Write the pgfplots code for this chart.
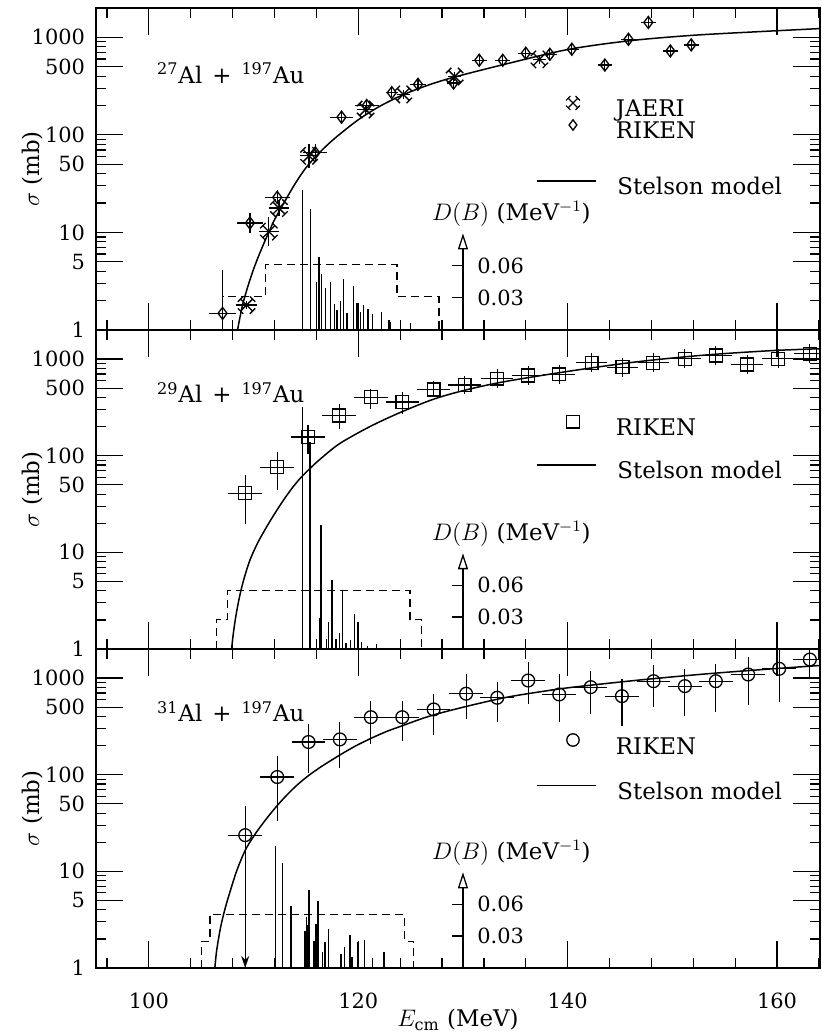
\documentclass[border=0pt]{standalone}
\usepackage{fontspec}
\setmainfont{DejaVu Serif}
\usepackage{pgfplots}
\pgfplotsset{compat=1.18}
\usetikzlibrary{arrows.meta}

% JAERI symbol: an x with small caps on each arm
\pgfdeclareplotmark{jaeri}{%
  \pgfpathmoveto{\pgfqpoint{-\pgfplotmarksize}{-\pgfplotmarksize}}%
  \pgfpathlineto{\pgfqpoint{\pgfplotmarksize}{\pgfplotmarksize}}%
  \pgfpathmoveto{\pgfqpoint{-\pgfplotmarksize}{\pgfplotmarksize}}%
  \pgfpathlineto{\pgfqpoint{\pgfplotmarksize}{-\pgfplotmarksize}}%
  \pgfpathmoveto{\pgfqpoint{1.45\pgfplotmarksize}{0.55\pgfplotmarksize}}%
  \pgfpathlineto{\pgfqpoint{0.55\pgfplotmarksize}{1.45\pgfplotmarksize}}%
  \pgfpathmoveto{\pgfqpoint{-0.55\pgfplotmarksize}{-1.45\pgfplotmarksize}}%
  \pgfpathlineto{\pgfqpoint{-1.45\pgfplotmarksize}{-0.55\pgfplotmarksize}}%
  \pgfpathmoveto{\pgfqpoint{-1.45\pgfplotmarksize}{0.55\pgfplotmarksize}}%
  \pgfpathlineto{\pgfqpoint{-0.55\pgfplotmarksize}{1.45\pgfplotmarksize}}%
  \pgfpathmoveto{\pgfqpoint{0.55\pgfplotmarksize}{-1.45\pgfplotmarksize}}%
  \pgfpathlineto{\pgfqpoint{1.45\pgfplotmarksize}{-0.55\pgfplotmarksize}}%
  \pgfusepathqstroke
}

\newcommand{\tfont}{\fontsize{10.5}{12}\selectfont}
\newcommand{\lfont}{\fontsize{11.5}{13}\selectfont}

\pgfplotsset{
  leg/.style={
    legend cell align=left,
    legend style={draw=none, fill=none, inner sep=0pt, outer sep=0pt,
      column sep=10.5bp, font=\lfont, anchor=north west,
      nodes={inner sep=0pt, text height=8bp, text depth=2bp}}},
  sigaxis/.style={
    scale only axis, width=362bp, xmin=94.95, xmax=164.1,
    ymin=1, ymax=2000,
    axis line style={line width=0.75bp},
    tick align=inside, major tick length=13.5bp, minor tick length=5bp,
    tick style={black, line width=0.6bp},
    xtick={100,120,140,160}, minor xtick={96,100,...,164},
    ytick={1,5,10,50,100,500,1000}, yticklabels={1,5,10,50,100,500,1000},
    minor ytick={2,3,4,6,7,8,9,20,30,40,60,70,80,90,200,300,400,600,700,800,900,2000},
    ticklabel style={font=\tfont},
    yticklabel style={xshift=-2bp},
    xticklabel style={yshift=-9bp},
    ylabel={$\sigma$ (mb)},
    ylabel style={at={(axis description cs:-0.088,0.5)}, anchor=center, font=\lfont},
    leg},
  dbaxis/.style={scale only axis, width=362bp, xmin=94.95, xmax=164.1,
    ymin=0, ymax=0.3, hide axis, clip=false, leg},
  errb/.style={only marks, forget plot, line width=0.6bp,
    mark options={line width=0.65bp, fill=none},
    error bars/x dir=both, error bars/x explicit,
    error bars/y dir=both, error bars/y explicit,
    error bars/error mark=none,
    error bars/error bar style={line width=0.6bp}},
  model/.style={forget plot, smooth, tension=0.5, line width=0.75bp},
  sticks/.style={forget plot, ycomb, no marks, line width=0.65bp},
  hist/.style={forget plot, no marks, line width=0.6bp, dash pattern=on 4bp off 2.5bp},
  mklegend/.style={legend image code/.code={%
    \path[draw=none, fill=none] (0bp,-1bp) rectangle (29.5bp,8bp);
    \draw[##1] plot coordinates {(18.5bp,4bp)};}},
  lnlegend/.style={legend image code/.code={%
    \path[draw=none, fill=none] (0bp,-1bp) rectangle (29.5bp,8bp);
    \draw[##1] (0bp,4bp) -- (29.5bp,4bp);}},
}

\newcommand{\daxis}{%
  \draw[line width=0.65bp, -{Triangle[open, length=8bp, width=5bp, line width=0.65bp]}]
    (axis cs:130,0) -- (axis cs:130,0.09);
  \draw[line width=0.65bp] (axis cs:130,0.03) -- ++(-5.5bp,0pt);
  \draw[line width=0.65bp] (axis cs:130,0.06) -- ++(-5.5bp,0pt);
  \node[anchor=west, inner sep=0pt, xshift=7bp, font=\tfont] at (axis cs:130,0.03) {0.03};
  \node[anchor=west, inner sep=0pt, xshift=7bp, font=\tfont] at (axis cs:130,0.06) {0.06};
  \node[font=\lfont] at (axis cs:134.62,0.108) {$D(B)$ (MeV$^{-1}$)};
  \addlegendimage{line width=0.75bp, lnlegend}
  \addlegendentry{Stelson model}
}

\begin{document}
\begin{tikzpicture}
\path[use as bounding box] (0bp,0bp) rectangle (411bp,516.5bp);

% ---------------- panel 1: 27Al + 197Au ----------------
\begin{axis}[sigaxis, ymode=log, /pgf/number format/assume math mode=true,
  at={(48bp,351.5bp)}, anchor=south west, height=161bp,
  xticklabel=\empty,
  legend style={at={(0.6077,0.7298)}, row sep=-2bp}]
  \addplot[model] coordinates {(108.47,1) (108.7,1.35) (109.0,1.9) (109.5,2.9) (110,4.2)
    (110.5,5.8) (111,7.8) (111.5,10.3) (112,13.5) (113,21) (114,32) (115,46) (116,61)
    (117,78) (118,97) (120,143) (122,195) (124,250) (126,305) (128,360) (130,413)
    (134,530) (140,750) (146,925) (152,1050) (158,1140) (164.1,1230)};
  \addplot[errb, mark=jaeri, mark size=3bp] table[x=E, y=s, x error=ex,
    y error plus=ep, y error minus=em] {
    E s ex ep em
    109.33 1.8 1.0 0.18 0.16
    111.46 10.2 0.95 4.1 2.9
    112.42 17.8 0.95 3.6 3.0
    115.3 61 0.85 20 15
    120.7 182 0.8 22 19.5
    124.3 260 0.6 31 28
    129.2 397 0.6 48 43
    137.3 595 0.6 71 64
  };
  \addplot[errb, mark=diamond, mark size=3bp] table[x=E, y=s, x error=ex,
    y error plus=ep, y error minus=em] {
    E s ex ep em
    107.04 1.48 1.27 2.62 0.47
    109.65 12.5 1.27 3.4 2.7
    112.26 22.9 1.2 4.1 3.5
    115.9 65.5 1.15 15.7 12.7
    118.4 152 1.1 18 16
    120.8 200 1.15 24 21
    123.2 271 0.55 32 29
    125.7 330 0.8 40 35
    129.1 340 0.6 41 36
    131.55 582 0.7 70 62
    133.8 582 0.7 70 62
    136.0 687 0.7 82 74
    138.3 670 0.7 80 72
    140.4 755 0.7 90 81
    143.55 520 0.7 62 56
    145.8 955 0.7 115 102
    147.7 1420 0.7 170 152
    149.8 725 0.7 87 78
    151.8 836 0.7 100 90
  };
  \addlegendimage{only marks, mark=jaeri, mark size=2.4bp, mark options={line width=0.6bp}, mklegend}
  \addlegendentry{JAERI}
  \addlegendimage{only marks, mark=diamond, mark size=2.6bp, mark options={line width=0.65bp}, mklegend}
  \addlegendentry{RIKEN}
  \node[anchor=base west, font=\lfont] at (rel axis cs:0.0746,0.767)
    {\textsuperscript{27}Al\hspace{5bp}+\hspace{5bp}\textsuperscript{197}Au};
\end{axis}
\begin{axis}[dbaxis, at={(48bp,351.5bp)}, anchor=south west, height=161bp,
  legend style={at={(0.6077,0.4876)}}]
  \addplot[sticks] coordinates {(114.68,0.1305) (115.44,0.1125) (116.02,0.045)
    (116.24,0.0678) (116.52,0.0522) (116.84,0.0389) (117.32,0.0447) (117.74,0.024)
    (117.98,0.0186) (118.27,0.0273) (118.56,0.0475) (118.91,0.0161) (119.51,0.041)
    (119.89,0.0249) (120.22,0.0168) (120.53,0.0233) (120.92,0.0193) (121.39,0.0146)
    (122.19,0.0168) (122.92,0.009) (123.08,0.0077) (125.0,0.0062)};
  \addplot[hist] coordinates {(107.04,0) (107.04,0.031) (111.15,0.031) (111.15,0.061)
    (123.7,0.061) (123.7,0.031) (127.7,0.031) (127.7,0)};
  \daxis
\end{axis}

% ---------------- panel 2: 29Al + 197Au ----------------
\begin{axis}[sigaxis, ymode=log, /pgf/number format/assume math mode=true,
  at={(48bp,192bp)}, anchor=south west, height=159.5bp,
  xticklabel=\empty,
  legend style={at={(0.6077,0.7376)}}]
  \addplot[model] coordinates {(107.9,1) (108.05,1.4) (108.25,2.0) (108.5,2.85)
    (108.75,3.85) (109.1,5.4) (109.65,8.3) (110.4,12.6) (111.24,18.3) (112,25)
    (112.8,34) (113.6,45) (114.4,57.5) (115.4,74) (116.3,91) (118.2,133) (121.1,200)
    (124,280) (127.2,385) (130.3,480) (134,585) (140.5,760) (146.9,945) (153.3,1105)
    (159.6,1225) (164.1,1280)};
  \addplot[errb, mark=square, mark size=3.2bp] table[x=E, y=s, x error=ex,
    y error plus=ep, y error minus=em] {
    E s ex ep em
    109.2 41 1.6 22 21.4
    112.26 76 1.6 33 31.3
    115.2 156 1.6 50 51
    118.18 261 1.6 84 71
    121.2 404 1.6 89 97
    124.2 359 1.6 97 91
    127.2 485 1.6 115 65
    130.15 540 1.55 135 108
    133.27 626 1.55 157 125
    136.23 677 1.55 169 135
    139.19 694 1.55 174 139
    142.28 916 1.5 229 183
    145.24 824 1.5 206 165
    148.17 916 1.5 229 183
    151.19 1007 1.5 252 201
    154.15 1089 1.5 272 218
    157.14 880 1.5 220 176
    160.1 1007 1.5 252 201
    163.13 1135 1.5 284 227
  };
  \addlegendimage{only marks, mark=square, mark size=3.1bp, mark options={line width=0.65bp}, mklegend}
  \addlegendentry{RIKEN}
  \node[anchor=base west, font=\lfont] at (rel axis cs:0.0746,0.772)
    {\textsuperscript{29}Al\hspace{5bp}+\hspace{5bp}\textsuperscript{197}Au};
\end{axis}
\begin{axis}[dbaxis, at={(48bp,192bp)}, anchor=south west, height=159.5bp,
  legend style={at={(0.6077,0.6020)}}]
  \addplot[sticks] coordinates {(114.65,0.228) (115.4,0.195) (116.0,0.0092) (116.3,0.029)
    (116.43,0.117) (116.97,0.0092) (117.16,0.025) (117.48,0.0645) (117.86,0.0092)
    (118.18,0.0148) (118.5,0.055) (118.82,0.0054) (119.23,0.0085) (119.65,0.033)
    (119.93,0.025) (120.34,0.0069) (120.85,0.003) (121.75,0.0047)};
  \addplot[hist] coordinates {(106.46,0) (106.46,0.028) (107.5,0.028) (107.5,0.055)
    (124.93,0.055) (124.93,0.028) (126.04,0.028) (126.04,0)};
  \daxis
\end{axis}

% ---------------- panel 3: 31Al + 197Au ----------------
\begin{axis}[sigaxis, ymode=log, /pgf/number format/assume math mode=true,
  at={(48bp,32.5bp)}, anchor=south west, height=159.5bp,
  xlabel={$E_{\mathrm{cm}}$ (MeV)},
  xlabel style={at={(axis description cs:0.5,0)}, anchor=center, yshift=-26bp, font=\lfont},
  legend style={at={(0.6077,0.7398)}}]
  \addplot[model] coordinates {(106.3,1) (106.45,1.45) (106.65,2.0) (106.9,2.8)
    (107.3,4.2) (107.74,6.1) (108.4,10.2) (109.2,16.5) (110,23) (110.6,28.5) (111.4,37)
    (112.26,48) (113.2,62) (114.2,79) (115.25,98) (116.5,122) (118.24,160) (119.8,200)
    (121.4,243) (122.8,283) (124.3,324) (126,378) (127.6,428) (130.7,521) (134.2,634)
    (137.5,725) (140.5,805) (146.9,956) (153.3,1107) (159.6,1248) (164.1,1350)};
  \addplot[errb, mark=o, mark size=3.2bp] table[x=E, y=s, x error=ex,
    y error plus=ep, y error minus=em] {
    E s ex ep em
    109.2 23.7 1.6 24.3 22.7
    112.26 94.7 1.6 60 61.7
    115.25 218 1.6 119 115
    118.24 232 1.6 118 115
    121.2 394 1.6 191 184
    124.2 394 1.6 179 173
    127.2 474 1.6 215 219
    130.3 689 1.6 411 309
    133.27 626 1.6 284 275
    136.23 944 1.6 516 410
    139.19 677 1.6 423 326
    142.2 806 1.6 391 379
    145.18 650 1.6 330 334
    148.2 929 1.6 421 429
    151.19 826 1.6 404 417
    154.15 929 1.6 461 484
    157.24 1089 1.6 556 568
    160.2 1248 1.6 1252 684
    163.13 1556 1.6 1444 576
  };
  \addplot[forget plot, line width=0.6bp, -{Stealth[length=6bp, width=4bp]}]
    coordinates {(109.2,10) (109.2,1)};
  \addlegendimage{only marks, mark=o, mark size=3.1bp, mark options={line width=0.65bp}, mklegend}
  \addlegendentry{RIKEN}
  \node[anchor=base west, font=\lfont] at (rel axis cs:0.0746,0.772)
    {\textsuperscript{31}Al\hspace{5bp}+\hspace{5bp}\textsuperscript{197}Au};
\end{axis}
\begin{axis}[dbaxis, at={(48bp,32.5bp)}, anchor=south west, height=159.5bp,
  legend style={at={(0.6077,0.5966)}}]
  \addplot[sticks] coordinates {(112.07,0.1148) (112.77,0.0984) (113.56,0.0582)
    (114.9,0.035) (115.06,0.048) (115.15,0.04) (115.28,0.073) (115.76,0.0257)
    (115.95,0.0411) (116.05,0.03) (116.14,0.0628) (116.59,0.0155) (116.81,0.0241)
    (117.16,0.0365) (118.34,0.0127) (118.69,0.0195) (119.2,0.0309) (119.39,0.0102)
    (119.9,0.0241) (120.6,0.0263) (121.37,0.0096) (122.47,0.0155)};
  \addplot[hist] coordinates {(105.03,0) (105.03,0.025) (105.83,0.025) (105.83,0.050)
    (124.45,0.050) (124.45,0.025) (125.31,0.025) (125.31,0)};
  \daxis
\end{axis}
\end{tikzpicture}
\end{document}
